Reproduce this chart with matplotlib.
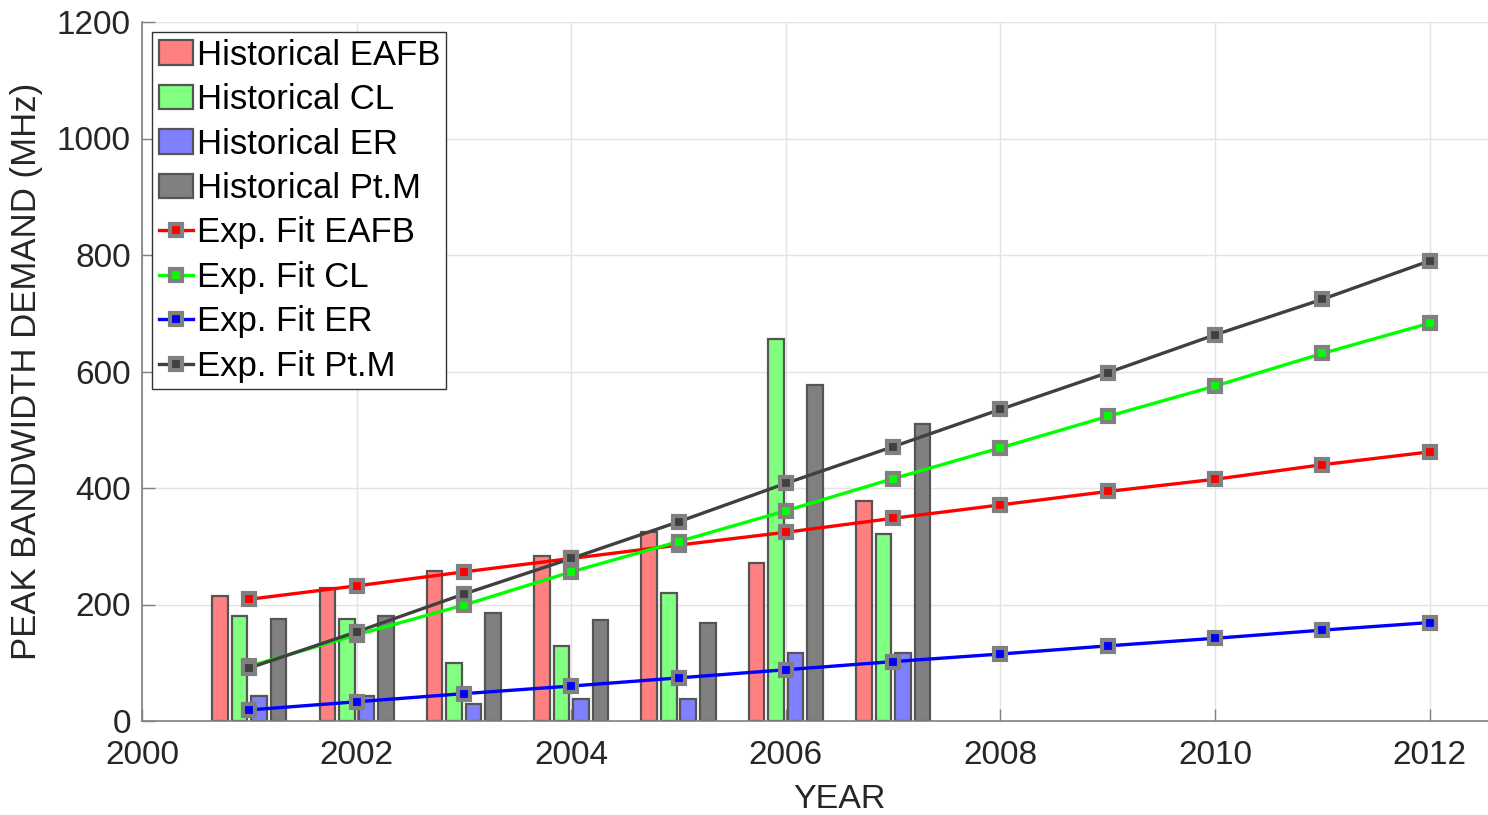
import numpy as np
import matplotlib.pyplot as plt

plt.rcParams['font.family'] = ['Liberation Sans', 'DejaVu Sans']

# historical peak demand (bars)
hist_years = [2001, 2002, 2003, 2004, 2005, 2006, 2007]
eafb_hist = [215, 228, 257, 283, 324, 271, 378]
cl_hist = [180, 175, 100, 128, 219, 656, 321]
er_hist = [43, 43, 30, 37, 37, 117, 117]
ptm_hist = [175, 181, 185, 173, 169, 576, 510]

# exponential fit (lines)
fit_years = [2001, 2002, 2003, 2004, 2005, 2006, 2007, 2008, 2009, 2010, 2011, 2012]
eafb_fit = [209, 232, 256, 279, 302, 324, 348, 371, 394, 415, 440, 462]
cl_fit = [94, 148, 199, 256, 308, 361, 416, 469, 523, 575, 631, 683]
er_fit = [19, 33, 47, 60, 74, 88, 102, 115, 129, 142, 156, 169]
ptm_fit = [91, 153, 218, 279, 342, 408, 471, 535, 598, 663, 724, 790]

names = ["EAFB", "CL", "ER", "Pt.M"]
bar_colors = ["#ff8080", "#80ff80", "#8080ff", "#808080"]
line_colors = ["#ff0000", "#00ff00", "#0000ff", "#404040"]
txt = "#262626"


def main():
    fig = plt.figure(figsize=(14.88, 8.15), dpi=100)
    ax = fig.add_axes([142 / 1488, 1 - 721 / 815, 1395 / 1488, 699 / 815])

    hist = [eafb_hist, cl_hist, er_hist, ptm_hist]
    fits = [eafb_fit, cl_fit, er_fit, ptm_fit]

    x = np.array(hist_years, dtype=float)
    gw = 4 / 5.5
    bw = gw / 4 * 0.8
    handles = []
    for i in range(4):
        off = (i - 1.5) * gw / 4
        b = ax.bar(x + off, hist[i], width=bw, color=bar_colors[i],
                   edgecolor="#555555", linewidth=1.6, zorder=2,
                   label="Historical " + names[i])
        handles.append(b)

    for i in range(4):
        ln, = ax.plot(fit_years, fits[i], color=line_colors[i], lw=2.4,
                      marker="s", ms=9, mfc=line_colors[i], mec="#808080",
                      mew=3, zorder=3, label="Exp. Fit " + names[i])
        handles.append(ln)

    ax.set_xlim(2000, 2013)
    ax.set_ylim(0, 1200)
    ax.set_xticks(range(2000, 2013, 2))
    ax.set_yticks(range(0, 1201, 200))
    ax.grid(True, color="#e3e3e3", lw=1.0)
    ax.set_axisbelow(True)

    for s in ["top", "right"]:
        ax.spines[s].set_visible(False)
    for s in ["left", "bottom"]:
        ax.spines[s].set_color("#808080")
        ax.spines[s].set_linewidth(1.2)

    ax.tick_params(direction="in", length=9, width=1.0, color="#808080",
                   labelsize=24, labelcolor=txt)
    ax.tick_params(axis="y", pad=8)
    ax.tick_params(axis="x", pad=14)

    ax.set_xlabel("YEAR", fontsize=24.5, color=txt, labelpad=9)
    ax.set_ylabel("PEAK BANDWIDTH DEMAND (MHz)", fontsize=25, color=txt,
                  labelpad=10)

    leg = ax.legend(handles=handles, loc="upper left", fontsize=25,
                    frameon=True, fancybox=False, framealpha=1,
                    edgecolor="#333333", handlelength=1.0,
                    handletextpad=0.1, labelspacing=0.33, borderpad=0.18,
                    borderaxespad=0.3)
    leg.get_frame().set_linewidth(1.0)
    for t in leg.get_texts():
        t.set_color("black")

    fig.savefig("out.png", dpi=100)


if __name__ == "__main__":
    main()
